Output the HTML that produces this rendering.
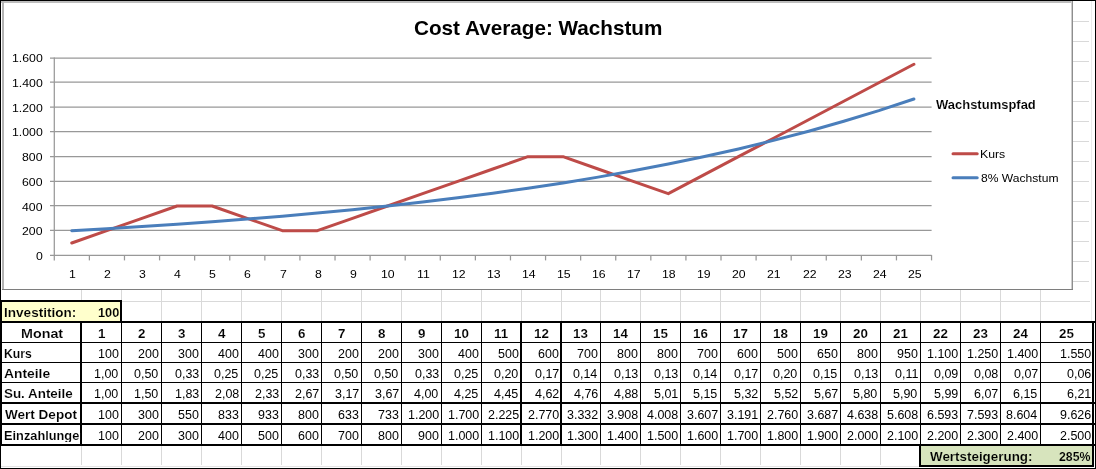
<!DOCTYPE html>
<html><head><meta charset="utf-8"><title>Cost Average: Wachstum</title>
<style>
html,body{margin:0;padding:0;background:#fff;}
body{width:1096px;height:469px;position:relative;overflow:hidden;font-family:"Liberation Sans", sans-serif;}
.r{position:absolute;}
.txt{position:absolute;left:0;top:0;width:1096px;height:469px;will-change:transform;}
.t{position:absolute;white-space:nowrap;transform-origin:0 0;color:#000;display:block;}
</style></head><body>
<div class="r" style="left:1073px;top:21px;width:16px;height:1px;background:#d9d9d9"></div>
<div class="r" style="left:1073px;top:41px;width:16px;height:1px;background:#d9d9d9"></div>
<div class="r" style="left:1073px;top:61px;width:16px;height:1px;background:#d9d9d9"></div>
<div class="r" style="left:1073px;top:81px;width:16px;height:1px;background:#d9d9d9"></div>
<div class="r" style="left:1073px;top:101px;width:16px;height:1px;background:#d9d9d9"></div>
<div class="r" style="left:1073px;top:121px;width:16px;height:1px;background:#d9d9d9"></div>
<div class="r" style="left:1073px;top:141px;width:16px;height:1px;background:#d9d9d9"></div>
<div class="r" style="left:1073px;top:161px;width:16px;height:1px;background:#d9d9d9"></div>
<div class="r" style="left:1073px;top:181px;width:16px;height:1px;background:#d9d9d9"></div>
<div class="r" style="left:1073px;top:201px;width:16px;height:1px;background:#d9d9d9"></div>
<div class="r" style="left:1073px;top:221px;width:16px;height:1px;background:#d9d9d9"></div>
<div class="r" style="left:1073px;top:241px;width:16px;height:1px;background:#d9d9d9"></div>
<div class="r" style="left:1073px;top:261px;width:16px;height:1px;background:#d9d9d9"></div>
<div class="r" style="left:1073px;top:281px;width:16px;height:1px;background:#d9d9d9"></div>
<div class="r" style="left:122px;top:301px;width:968px;height:1px;background:#d9d9d9"></div>
<div class="r" style="left:81px;top:290px;width:1px;height:11px;background:#d9d9d9"></div>
<div class="r" style="left:81px;top:302px;width:1px;height:19px;background:#d9d9d9"></div>
<div class="r" style="left:81px;top:446px;width:1px;height:19px;background:#d9d9d9"></div>
<div class="r" style="left:121px;top:290px;width:1px;height:11px;background:#d9d9d9"></div>
<div class="r" style="left:121px;top:302px;width:1px;height:19px;background:#d9d9d9"></div>
<div class="r" style="left:121px;top:446px;width:1px;height:19px;background:#d9d9d9"></div>
<div class="r" style="left:161px;top:290px;width:1px;height:11px;background:#d9d9d9"></div>
<div class="r" style="left:161px;top:302px;width:1px;height:19px;background:#d9d9d9"></div>
<div class="r" style="left:161px;top:446px;width:1px;height:19px;background:#d9d9d9"></div>
<div class="r" style="left:201px;top:290px;width:1px;height:11px;background:#d9d9d9"></div>
<div class="r" style="left:201px;top:302px;width:1px;height:19px;background:#d9d9d9"></div>
<div class="r" style="left:201px;top:446px;width:1px;height:19px;background:#d9d9d9"></div>
<div class="r" style="left:241px;top:290px;width:1px;height:11px;background:#d9d9d9"></div>
<div class="r" style="left:241px;top:302px;width:1px;height:19px;background:#d9d9d9"></div>
<div class="r" style="left:241px;top:446px;width:1px;height:19px;background:#d9d9d9"></div>
<div class="r" style="left:281px;top:290px;width:1px;height:11px;background:#d9d9d9"></div>
<div class="r" style="left:281px;top:302px;width:1px;height:19px;background:#d9d9d9"></div>
<div class="r" style="left:281px;top:446px;width:1px;height:19px;background:#d9d9d9"></div>
<div class="r" style="left:321px;top:290px;width:1px;height:11px;background:#d9d9d9"></div>
<div class="r" style="left:321px;top:302px;width:1px;height:19px;background:#d9d9d9"></div>
<div class="r" style="left:321px;top:446px;width:1px;height:19px;background:#d9d9d9"></div>
<div class="r" style="left:361px;top:290px;width:1px;height:11px;background:#d9d9d9"></div>
<div class="r" style="left:361px;top:302px;width:1px;height:19px;background:#d9d9d9"></div>
<div class="r" style="left:361px;top:446px;width:1px;height:19px;background:#d9d9d9"></div>
<div class="r" style="left:401px;top:290px;width:1px;height:11px;background:#d9d9d9"></div>
<div class="r" style="left:401px;top:302px;width:1px;height:19px;background:#d9d9d9"></div>
<div class="r" style="left:401px;top:446px;width:1px;height:19px;background:#d9d9d9"></div>
<div class="r" style="left:441px;top:290px;width:1px;height:11px;background:#d9d9d9"></div>
<div class="r" style="left:441px;top:302px;width:1px;height:19px;background:#d9d9d9"></div>
<div class="r" style="left:441px;top:446px;width:1px;height:19px;background:#d9d9d9"></div>
<div class="r" style="left:481px;top:290px;width:1px;height:11px;background:#d9d9d9"></div>
<div class="r" style="left:481px;top:302px;width:1px;height:19px;background:#d9d9d9"></div>
<div class="r" style="left:481px;top:446px;width:1px;height:19px;background:#d9d9d9"></div>
<div class="r" style="left:521px;top:290px;width:1px;height:11px;background:#d9d9d9"></div>
<div class="r" style="left:521px;top:302px;width:1px;height:19px;background:#d9d9d9"></div>
<div class="r" style="left:521px;top:446px;width:1px;height:19px;background:#d9d9d9"></div>
<div class="r" style="left:561px;top:290px;width:1px;height:11px;background:#d9d9d9"></div>
<div class="r" style="left:561px;top:302px;width:1px;height:19px;background:#d9d9d9"></div>
<div class="r" style="left:561px;top:446px;width:1px;height:19px;background:#d9d9d9"></div>
<div class="r" style="left:600px;top:290px;width:1px;height:11px;background:#d9d9d9"></div>
<div class="r" style="left:600px;top:302px;width:1px;height:19px;background:#d9d9d9"></div>
<div class="r" style="left:600px;top:446px;width:1px;height:19px;background:#d9d9d9"></div>
<div class="r" style="left:640px;top:290px;width:1px;height:11px;background:#d9d9d9"></div>
<div class="r" style="left:640px;top:302px;width:1px;height:19px;background:#d9d9d9"></div>
<div class="r" style="left:640px;top:446px;width:1px;height:19px;background:#d9d9d9"></div>
<div class="r" style="left:680px;top:290px;width:1px;height:11px;background:#d9d9d9"></div>
<div class="r" style="left:680px;top:302px;width:1px;height:19px;background:#d9d9d9"></div>
<div class="r" style="left:680px;top:446px;width:1px;height:19px;background:#d9d9d9"></div>
<div class="r" style="left:720px;top:290px;width:1px;height:11px;background:#d9d9d9"></div>
<div class="r" style="left:720px;top:302px;width:1px;height:19px;background:#d9d9d9"></div>
<div class="r" style="left:720px;top:446px;width:1px;height:19px;background:#d9d9d9"></div>
<div class="r" style="left:760px;top:290px;width:1px;height:11px;background:#d9d9d9"></div>
<div class="r" style="left:760px;top:302px;width:1px;height:19px;background:#d9d9d9"></div>
<div class="r" style="left:760px;top:446px;width:1px;height:19px;background:#d9d9d9"></div>
<div class="r" style="left:800px;top:290px;width:1px;height:11px;background:#d9d9d9"></div>
<div class="r" style="left:800px;top:302px;width:1px;height:19px;background:#d9d9d9"></div>
<div class="r" style="left:800px;top:446px;width:1px;height:19px;background:#d9d9d9"></div>
<div class="r" style="left:840px;top:290px;width:1px;height:11px;background:#d9d9d9"></div>
<div class="r" style="left:840px;top:302px;width:1px;height:19px;background:#d9d9d9"></div>
<div class="r" style="left:840px;top:446px;width:1px;height:19px;background:#d9d9d9"></div>
<div class="r" style="left:880px;top:290px;width:1px;height:11px;background:#d9d9d9"></div>
<div class="r" style="left:880px;top:302px;width:1px;height:19px;background:#d9d9d9"></div>
<div class="r" style="left:880px;top:446px;width:1px;height:19px;background:#d9d9d9"></div>
<div class="r" style="left:920px;top:290px;width:1px;height:11px;background:#d9d9d9"></div>
<div class="r" style="left:920px;top:302px;width:1px;height:19px;background:#d9d9d9"></div>
<div class="r" style="left:960px;top:290px;width:1px;height:11px;background:#d9d9d9"></div>
<div class="r" style="left:960px;top:302px;width:1px;height:19px;background:#d9d9d9"></div>
<div class="r" style="left:1000px;top:290px;width:1px;height:11px;background:#d9d9d9"></div>
<div class="r" style="left:1000px;top:302px;width:1px;height:19px;background:#d9d9d9"></div>
<div class="r" style="left:1040px;top:290px;width:1px;height:11px;background:#d9d9d9"></div>
<div class="r" style="left:1040px;top:302px;width:1px;height:19px;background:#d9d9d9"></div>
<div class="r" style="left:1091px;top:1px;width:1px;height:320px;background:#ebebeb"></div>
<div class="r" style="left:1px;top:466px;width:918px;height:1px;background:#e4e4e4"></div>
<div class="r" style="left:2px;top:302px;width:118px;height:19px;background:#ffffcc"></div>
<div class="r" style="left:921px;top:446px;width:171px;height:19px;background:#d7e4bd"></div>
<div class="r" style="left:1px;top:1px;width:1072px;height:2px;background:#bdbdbd"></div>
<div class="r" style="left:2px;top:1px;width:2px;height:289px;background:#b4b4b4"></div>
<div class="r" style="left:1071px;top:1px;width:1px;height:289px;background:#cdcdcd"></div>
<div class="r" style="left:1072px;top:1px;width:1px;height:289px;background:#8e8e8e"></div>
<div class="r" style="left:2px;top:289px;width:1071px;height:1px;background:#7e7e7e"></div>
<div class="r" style="left:0px;top:300px;width:122px;height:2px;background:#000"></div>
<div class="r" style="left:120px;top:300px;width:2px;height:22px;background:#000"></div>
<div class="r" style="left:0px;top:321px;width:1095px;height:2px;background:#000"></div>
<div class="r" style="left:0px;top:342px;width:1094px;height:1px;background:#000"></div>
<div class="r" style="left:0px;top:362px;width:1094px;height:1px;background:#000"></div>
<div class="r" style="left:0px;top:382px;width:1094px;height:1px;background:#000"></div>
<div class="r" style="left:0px;top:402px;width:1095px;height:2px;background:#000"></div>
<div class="r" style="left:0px;top:423px;width:1095px;height:2px;background:#000"></div>
<div class="r" style="left:0px;top:444px;width:1095px;height:2px;background:#000"></div>
<div class="r" style="left:80px;top:321px;width:2px;height:125px;background:#000"></div>
<div class="r" style="left:121px;top:321px;width:1px;height:125px;background:#000"></div>
<div class="r" style="left:161px;top:321px;width:1px;height:125px;background:#000"></div>
<div class="r" style="left:201px;top:321px;width:1px;height:125px;background:#000"></div>
<div class="r" style="left:241px;top:321px;width:1px;height:125px;background:#000"></div>
<div class="r" style="left:281px;top:321px;width:1px;height:125px;background:#000"></div>
<div class="r" style="left:321px;top:321px;width:1px;height:125px;background:#000"></div>
<div class="r" style="left:361px;top:321px;width:1px;height:125px;background:#000"></div>
<div class="r" style="left:401px;top:321px;width:1px;height:125px;background:#000"></div>
<div class="r" style="left:441px;top:321px;width:1px;height:125px;background:#000"></div>
<div class="r" style="left:481px;top:321px;width:1px;height:125px;background:#000"></div>
<div class="r" style="left:520px;top:321px;width:2px;height:125px;background:#000"></div>
<div class="r" style="left:560px;top:321px;width:2px;height:125px;background:#000"></div>
<div class="r" style="left:600px;top:321px;width:1px;height:125px;background:#000"></div>
<div class="r" style="left:640px;top:321px;width:1px;height:125px;background:#000"></div>
<div class="r" style="left:680px;top:321px;width:1px;height:125px;background:#000"></div>
<div class="r" style="left:720px;top:321px;width:1px;height:125px;background:#000"></div>
<div class="r" style="left:760px;top:321px;width:1px;height:125px;background:#000"></div>
<div class="r" style="left:800px;top:321px;width:1px;height:125px;background:#000"></div>
<div class="r" style="left:840px;top:321px;width:1px;height:125px;background:#000"></div>
<div class="r" style="left:880px;top:321px;width:1px;height:125px;background:#000"></div>
<div class="r" style="left:920px;top:321px;width:1px;height:125px;background:#000"></div>
<div class="r" style="left:960px;top:321px;width:1px;height:125px;background:#000"></div>
<div class="r" style="left:1000px;top:321px;width:1px;height:125px;background:#000"></div>
<div class="r" style="left:1040px;top:321px;width:1px;height:125px;background:#000"></div>
<div class="r" style="left:1092px;top:321px;width:2px;height:146px;background:#000"></div>
<div class="r" style="left:919px;top:444px;width:2px;height:23px;background:#000"></div>
<div class="r" style="left:919px;top:465px;width:175px;height:2px;background:#000"></div>
<div class="r" style="left:0px;top:0px;width:1096px;height:1px;background:#000"></div>
<div class="r" style="left:0px;top:0px;width:1px;height:469px;background:#000"></div>
<div class="r" style="left:1095px;top:0px;width:1px;height:469px;background:#000"></div>
<div class="r" style="left:0px;top:468px;width:1096px;height:1px;background:#000"></div>
<div class="r" style="left:0px;top:300px;width:2px;height:146px;background:#000"></div>
<svg class="r" style="left:0;top:0" width="1096" height="469" viewBox="0 0 1096 469">
<line x1="50" y1="255.3" x2="931.6" y2="255.3" stroke="#989898" stroke-width="1.25"/>
<line x1="50" y1="230.3" x2="931.6" y2="230.3" stroke="#989898" stroke-width="1.25"/>
<line x1="50" y1="205.7" x2="931.6" y2="205.7" stroke="#989898" stroke-width="1.25"/>
<line x1="50" y1="181.4" x2="931.6" y2="181.4" stroke="#989898" stroke-width="1.25"/>
<line x1="50" y1="156.5" x2="931.6" y2="156.5" stroke="#989898" stroke-width="1.25"/>
<line x1="50" y1="131.5" x2="931.6" y2="131.5" stroke="#989898" stroke-width="1.25"/>
<line x1="50" y1="107.0" x2="931.6" y2="107.0" stroke="#989898" stroke-width="1.25"/>
<line x1="50" y1="82.0" x2="931.6" y2="82.0" stroke="#989898" stroke-width="1.25"/>
<line x1="50" y1="58.0" x2="931.6" y2="58.0" stroke="#989898" stroke-width="1.25"/>
<line x1="54.3" y1="57.5" x2="54.3" y2="255.8" stroke="#989898" stroke-width="1.25"/>
<line x1="54.30" y1="255" x2="54.30" y2="260.4" stroke="#989898" stroke-width="1.25"/>
<line x1="89.39" y1="255" x2="89.39" y2="260.4" stroke="#989898" stroke-width="1.25"/>
<line x1="124.48" y1="255" x2="124.48" y2="260.4" stroke="#989898" stroke-width="1.25"/>
<line x1="159.57" y1="255" x2="159.57" y2="260.4" stroke="#989898" stroke-width="1.25"/>
<line x1="194.66" y1="255" x2="194.66" y2="260.4" stroke="#989898" stroke-width="1.25"/>
<line x1="229.75" y1="255" x2="229.75" y2="260.4" stroke="#989898" stroke-width="1.25"/>
<line x1="264.84" y1="255" x2="264.84" y2="260.4" stroke="#989898" stroke-width="1.25"/>
<line x1="299.93" y1="255" x2="299.93" y2="260.4" stroke="#989898" stroke-width="1.25"/>
<line x1="335.02" y1="255" x2="335.02" y2="260.4" stroke="#989898" stroke-width="1.25"/>
<line x1="370.11" y1="255" x2="370.11" y2="260.4" stroke="#989898" stroke-width="1.25"/>
<line x1="405.20" y1="255" x2="405.20" y2="260.4" stroke="#989898" stroke-width="1.25"/>
<line x1="440.29" y1="255" x2="440.29" y2="260.4" stroke="#989898" stroke-width="1.25"/>
<line x1="475.38" y1="255" x2="475.38" y2="260.4" stroke="#989898" stroke-width="1.25"/>
<line x1="510.47" y1="255" x2="510.47" y2="260.4" stroke="#989898" stroke-width="1.25"/>
<line x1="545.56" y1="255" x2="545.56" y2="260.4" stroke="#989898" stroke-width="1.25"/>
<line x1="580.65" y1="255" x2="580.65" y2="260.4" stroke="#989898" stroke-width="1.25"/>
<line x1="615.74" y1="255" x2="615.74" y2="260.4" stroke="#989898" stroke-width="1.25"/>
<line x1="650.83" y1="255" x2="650.83" y2="260.4" stroke="#989898" stroke-width="1.25"/>
<line x1="685.92" y1="255" x2="685.92" y2="260.4" stroke="#989898" stroke-width="1.25"/>
<line x1="721.01" y1="255" x2="721.01" y2="260.4" stroke="#989898" stroke-width="1.25"/>
<line x1="756.10" y1="255" x2="756.10" y2="260.4" stroke="#989898" stroke-width="1.25"/>
<line x1="791.19" y1="255" x2="791.19" y2="260.4" stroke="#989898" stroke-width="1.25"/>
<line x1="826.28" y1="255" x2="826.28" y2="260.4" stroke="#989898" stroke-width="1.25"/>
<line x1="861.37" y1="255" x2="861.37" y2="260.4" stroke="#989898" stroke-width="1.25"/>
<line x1="896.46" y1="255" x2="896.46" y2="260.4" stroke="#989898" stroke-width="1.25"/>
<line x1="931.55" y1="255" x2="931.55" y2="260.4" stroke="#989898" stroke-width="1.25"/>
<polyline points="71.75,242.98 106.84,230.65 141.93,218.33 177.02,206.00 212.11,206.00 247.19,218.33 282.29,230.65 317.38,230.65 352.47,218.33 387.56,206.00 422.65,193.68 457.74,181.35 492.83,169.03 527.92,156.70 563.01,156.70 598.10,169.03 633.19,181.35 668.28,193.68 703.37,175.19 738.46,156.70 773.55,138.21 808.64,119.73 843.73,101.24 878.82,82.75 913.91,64.26" fill="none" stroke="#be4b48" stroke-width="3" stroke-linecap="round" stroke-linejoin="round"/>
<polyline points="71.75,230.65 106.84,228.68 141.93,226.55 177.02,224.25 212.11,221.76 247.19,219.08 282.29,216.18 317.38,213.05 352.47,209.67 387.56,206.02 422.65,202.08 457.74,197.83 492.83,193.23 527.92,188.26 563.01,182.90 598.10,177.11 633.19,170.85 668.28,164.09 703.37,156.80 738.46,148.92 773.55,140.41 808.64,131.22 843.73,121.29 878.82,110.57 913.91,98.99" fill="none" stroke="#4a7ebb" stroke-width="3" stroke-linecap="round" stroke-linejoin="round"/>
<line x1="953" y1="153.8" x2="977.2" y2="153.8" stroke="#be4b48" stroke-width="3" stroke-linecap="round"/>
<line x1="953" y1="177.8" x2="977.2" y2="177.8" stroke="#4a7ebb" stroke-width="3" stroke-linecap="round"/>
</svg>
<div class="txt">
<span class="t" style="left:414.03px;top:17.90px;font-size:20.2px;line-height:20.2px;transform:scaleX(1.0252);font-weight:700;">Cost Average: Wachstum</span>
<span class="t" style="left:935.70px;top:98.85px;font-size:12.3px;line-height:12.3px;transform:scaleX(1.0560);font-weight:700;-webkit-text-stroke:0.12px #fff;">Wachstumspfad</span>
<span class="t" style="left:980.26px;top:148.80px;font-size:10.8px;line-height:10.8px;transform:scaleX(1.1373);">Kurs</span>
<span class="t" style="left:980.84px;top:172.60px;font-size:10.8px;line-height:10.8px;transform:scaleX(1.1191);">8% Wachstum</span>
<span class="t" style="left:36.16px;top:250.75px;font-size:10.5px;line-height:10.5px;transform:scaleX(1.1700);">0</span>
<span class="t" style="left:22.42px;top:225.75px;font-size:10.5px;line-height:10.5px;transform:scaleX(1.1700);">200</span>
<span class="t" style="left:22.42px;top:201.75px;font-size:10.5px;line-height:10.5px;transform:scaleX(1.1700);">400</span>
<span class="t" style="left:22.42px;top:176.75px;font-size:10.5px;line-height:10.5px;transform:scaleX(1.1700);">600</span>
<span class="t" style="left:22.42px;top:151.75px;font-size:10.5px;line-height:10.5px;transform:scaleX(1.1700);">800</span>
<span class="t" style="left:12.18px;top:126.75px;font-size:10.5px;line-height:10.5px;transform:scaleX(1.1700);">1.000</span>
<span class="t" style="left:12.18px;top:102.75px;font-size:10.5px;line-height:10.5px;transform:scaleX(1.1700);">1.200</span>
<span class="t" style="left:12.18px;top:77.75px;font-size:10.5px;line-height:10.5px;transform:scaleX(1.1700);">1.400</span>
<span class="t" style="left:12.18px;top:52.75px;font-size:10.5px;line-height:10.5px;transform:scaleX(1.1700);">1.600</span>
<span class="t" style="left:69.03px;top:268.75px;font-size:10.5px;line-height:10.5px;transform:scaleX(1.1700);">1</span>
<span class="t" style="left:104.27px;top:268.75px;font-size:10.5px;line-height:10.5px;transform:scaleX(1.1700);">2</span>
<span class="t" style="left:139.22px;top:268.75px;font-size:10.5px;line-height:10.5px;transform:scaleX(1.1700);">3</span>
<span class="t" style="left:174.45px;top:268.75px;font-size:10.5px;line-height:10.5px;transform:scaleX(1.1700);">4</span>
<span class="t" style="left:209.40px;top:268.75px;font-size:10.5px;line-height:10.5px;transform:scaleX(1.1700);">5</span>
<span class="t" style="left:244.49px;top:268.75px;font-size:10.5px;line-height:10.5px;transform:scaleX(1.1700);">6</span>
<span class="t" style="left:279.72px;top:268.75px;font-size:10.5px;line-height:10.5px;transform:scaleX(1.1700);">7</span>
<span class="t" style="left:314.67px;top:268.75px;font-size:10.5px;line-height:10.5px;transform:scaleX(1.1700);">8</span>
<span class="t" style="left:349.76px;top:268.75px;font-size:10.5px;line-height:10.5px;transform:scaleX(1.1700);">9</span>
<span class="t" style="left:381.34px;top:268.75px;font-size:10.5px;line-height:10.5px;transform:scaleX(1.1700);">10</span>
<span class="t" style="left:416.86px;top:268.75px;font-size:10.5px;line-height:10.5px;transform:scaleX(1.1700);">11</span>
<span class="t" style="left:451.52px;top:268.75px;font-size:10.5px;line-height:10.5px;transform:scaleX(1.1700);">12</span>
<span class="t" style="left:486.61px;top:268.75px;font-size:10.5px;line-height:10.5px;transform:scaleX(1.1700);">13</span>
<span class="t" style="left:521.55px;top:268.75px;font-size:10.5px;line-height:10.5px;transform:scaleX(1.1700);">14</span>
<span class="t" style="left:556.79px;top:268.75px;font-size:10.5px;line-height:10.5px;transform:scaleX(1.1700);">15</span>
<span class="t" style="left:591.88px;top:268.75px;font-size:10.5px;line-height:10.5px;transform:scaleX(1.1700);">16</span>
<span class="t" style="left:626.97px;top:268.75px;font-size:10.5px;line-height:10.5px;transform:scaleX(1.1700);">17</span>
<span class="t" style="left:662.06px;top:268.75px;font-size:10.5px;line-height:10.5px;transform:scaleX(1.1700);">18</span>
<span class="t" style="left:697.15px;top:268.75px;font-size:10.5px;line-height:10.5px;transform:scaleX(1.1700);">19</span>
<span class="t" style="left:732.38px;top:268.75px;font-size:10.5px;line-height:10.5px;transform:scaleX(1.1700);">20</span>
<span class="t" style="left:767.47px;top:268.75px;font-size:10.5px;line-height:10.5px;transform:scaleX(1.1700);">21</span>
<span class="t" style="left:802.56px;top:268.75px;font-size:10.5px;line-height:10.5px;transform:scaleX(1.1700);">22</span>
<span class="t" style="left:837.65px;top:268.75px;font-size:10.5px;line-height:10.5px;transform:scaleX(1.1700);">23</span>
<span class="t" style="left:872.60px;top:268.75px;font-size:10.5px;line-height:10.5px;transform:scaleX(1.1700);">24</span>
<span class="t" style="left:907.83px;top:268.75px;font-size:10.5px;line-height:10.5px;transform:scaleX(1.1700);">25</span>
<span class="t" style="left:3.88px;top:306.80px;font-size:12.4px;line-height:12.4px;transform:scaleX(1.0942);font-weight:700;-webkit-text-stroke:0.12px #ffffcc;">Investition:</span>
<span class="t" style="left:97.73px;top:306.80px;font-size:12.4px;line-height:12.4px;transform:scaleX(1.0308);font-weight:700;-webkit-text-stroke:0.12px #ffffcc;">100</span>
<span class="t" style="left:20.63px;top:327.80px;font-size:12.4px;line-height:12.4px;transform:scaleX(1.1549);font-weight:700;-webkit-text-stroke:0.12px #fff;">Monat</span>
<span class="t" style="left:3.66px;top:347.80px;font-size:12.4px;line-height:12.4px;transform:scaleX(0.9852);font-weight:700;-webkit-text-stroke:0.12px #fff;">Kurs</span>
<span class="t" style="left:4.12px;top:367.80px;font-size:12.4px;line-height:12.4px;transform:scaleX(1.1166);font-weight:700;-webkit-text-stroke:0.12px #fff;">Anteile</span>
<span class="t" style="left:3.86px;top:387.80px;font-size:12.4px;line-height:12.4px;transform:scaleX(1.0805);font-weight:700;-webkit-text-stroke:0.12px #fff;">Su. Anteile</span>
<span class="t" style="left:4.70px;top:408.80px;font-size:12.4px;line-height:12.4px;transform:scaleX(1.0920);font-weight:700;-webkit-text-stroke:0.12px #fff;">Wert Depot</span>
<span class="t" style="left:3.93px;top:429.80px;font-size:12.4px;line-height:12.4px;transform:scaleX(1.0316);font-weight:700;-webkit-text-stroke:0.12px #fff;width:73.74px;overflow:hidden;">Einzahlungen</span>
<span class="t" style="left:930.40px;top:450.80px;font-size:12.4px;line-height:12.4px;transform:scaleX(1.0813);font-weight:700;-webkit-text-stroke:0.12px #d7e4bd;">Wertsteigerung:</span>
<span class="t" style="left:1059.20px;top:450.80px;font-size:12.4px;line-height:12.4px;transform:scaleX(0.9935);font-weight:700;-webkit-text-stroke:0.12px #d7e4bd;">285%</span>
<span class="t" style="left:97.58px;top:327.80px;font-size:12.4px;line-height:12.4px;transform:scaleX(1.0800);font-weight:700;-webkit-text-stroke:0.12px #fff;">1</span>
<span class="t" style="left:137.72px;top:327.80px;font-size:12.4px;line-height:12.4px;transform:scaleX(1.0800);font-weight:700;-webkit-text-stroke:0.12px #fff;">2</span>
<span class="t" style="left:177.85px;top:327.80px;font-size:12.4px;line-height:12.4px;transform:scaleX(1.0800);font-weight:700;-webkit-text-stroke:0.12px #fff;">3</span>
<span class="t" style="left:217.72px;top:327.80px;font-size:12.4px;line-height:12.4px;transform:scaleX(1.0800);font-weight:700;-webkit-text-stroke:0.12px #fff;">4</span>
<span class="t" style="left:257.72px;top:327.80px;font-size:12.4px;line-height:12.4px;transform:scaleX(1.0800);font-weight:700;-webkit-text-stroke:0.12px #fff;">5</span>
<span class="t" style="left:297.72px;top:327.80px;font-size:12.4px;line-height:12.4px;transform:scaleX(1.0800);font-weight:700;-webkit-text-stroke:0.12px #fff;">6</span>
<span class="t" style="left:337.86px;top:327.80px;font-size:12.4px;line-height:12.4px;transform:scaleX(1.0800);font-weight:700;-webkit-text-stroke:0.12px #fff;">7</span>
<span class="t" style="left:377.72px;top:327.80px;font-size:12.4px;line-height:12.4px;transform:scaleX(1.0800);font-weight:700;-webkit-text-stroke:0.12px #fff;">8</span>
<span class="t" style="left:417.72px;top:327.80px;font-size:12.4px;line-height:12.4px;transform:scaleX(1.0800);font-weight:700;-webkit-text-stroke:0.12px #fff;">9</span>
<span class="t" style="left:453.94px;top:327.80px;font-size:12.4px;line-height:12.4px;transform:scaleX(1.0800);font-weight:700;-webkit-text-stroke:0.12px #fff;">10</span>
<span class="t" style="left:494.21px;top:327.80px;font-size:12.4px;line-height:12.4px;transform:scaleX(1.0800);font-weight:700;-webkit-text-stroke:0.12px #fff;">11</span>
<span class="t" style="left:533.94px;top:327.80px;font-size:12.4px;line-height:12.4px;transform:scaleX(1.0800);font-weight:700;-webkit-text-stroke:0.12px #fff;">12</span>
<span class="t" style="left:573.44px;top:327.80px;font-size:12.4px;line-height:12.4px;transform:scaleX(1.0800);font-weight:700;-webkit-text-stroke:0.12px #fff;">13</span>
<span class="t" style="left:612.67px;top:327.80px;font-size:12.4px;line-height:12.4px;transform:scaleX(1.0800);font-weight:700;-webkit-text-stroke:0.12px #fff;">14</span>
<span class="t" style="left:652.80px;top:327.80px;font-size:12.4px;line-height:12.4px;transform:scaleX(1.0800);font-weight:700;-webkit-text-stroke:0.12px #fff;">15</span>
<span class="t" style="left:692.94px;top:327.80px;font-size:12.4px;line-height:12.4px;transform:scaleX(1.0800);font-weight:700;-webkit-text-stroke:0.12px #fff;">16</span>
<span class="t" style="left:732.94px;top:327.80px;font-size:12.4px;line-height:12.4px;transform:scaleX(1.0800);font-weight:700;-webkit-text-stroke:0.12px #fff;">17</span>
<span class="t" style="left:772.80px;top:327.80px;font-size:12.4px;line-height:12.4px;transform:scaleX(1.0800);font-weight:700;-webkit-text-stroke:0.12px #fff;">18</span>
<span class="t" style="left:812.94px;top:327.80px;font-size:12.4px;line-height:12.4px;transform:scaleX(1.0800);font-weight:700;-webkit-text-stroke:0.12px #fff;">19</span>
<span class="t" style="left:853.08px;top:327.80px;font-size:12.4px;line-height:12.4px;transform:scaleX(1.0800);font-weight:700;-webkit-text-stroke:0.12px #fff;">20</span>
<span class="t" style="left:892.94px;top:327.80px;font-size:12.4px;line-height:12.4px;transform:scaleX(1.0800);font-weight:700;-webkit-text-stroke:0.12px #fff;">21</span>
<span class="t" style="left:933.08px;top:327.80px;font-size:12.4px;line-height:12.4px;transform:scaleX(1.0800);font-weight:700;-webkit-text-stroke:0.12px #fff;">22</span>
<span class="t" style="left:973.08px;top:327.80px;font-size:12.4px;line-height:12.4px;transform:scaleX(1.0800);font-weight:700;-webkit-text-stroke:0.12px #fff;">23</span>
<span class="t" style="left:1012.80px;top:327.80px;font-size:12.4px;line-height:12.4px;transform:scaleX(1.0800);font-weight:700;-webkit-text-stroke:0.12px #fff;">24</span>
<span class="t" style="left:1059.44px;top:327.80px;font-size:12.4px;line-height:12.4px;transform:scaleX(1.0800);font-weight:700;-webkit-text-stroke:0.12px #fff;">25</span>
<span class="t" style="left:98.12px;top:348.00px;font-size:12.0px;line-height:12.0px;transform:scaleX(1.0400);">100</span>
<span class="t" style="left:138.12px;top:348.00px;font-size:12.0px;line-height:12.0px;transform:scaleX(1.0400);">200</span>
<span class="t" style="left:178.12px;top:348.00px;font-size:12.0px;line-height:12.0px;transform:scaleX(1.0400);">300</span>
<span class="t" style="left:218.12px;top:348.00px;font-size:12.0px;line-height:12.0px;transform:scaleX(1.0400);">400</span>
<span class="t" style="left:258.12px;top:348.00px;font-size:12.0px;line-height:12.0px;transform:scaleX(1.0400);">400</span>
<span class="t" style="left:298.12px;top:348.00px;font-size:12.0px;line-height:12.0px;transform:scaleX(1.0400);">300</span>
<span class="t" style="left:338.12px;top:348.00px;font-size:12.0px;line-height:12.0px;transform:scaleX(1.0400);">200</span>
<span class="t" style="left:378.12px;top:348.00px;font-size:12.0px;line-height:12.0px;transform:scaleX(1.0400);">200</span>
<span class="t" style="left:418.12px;top:348.00px;font-size:12.0px;line-height:12.0px;transform:scaleX(1.0400);">300</span>
<span class="t" style="left:458.12px;top:348.00px;font-size:12.0px;line-height:12.0px;transform:scaleX(1.0400);">400</span>
<span class="t" style="left:498.12px;top:348.00px;font-size:12.0px;line-height:12.0px;transform:scaleX(1.0400);">500</span>
<span class="t" style="left:538.12px;top:348.00px;font-size:12.0px;line-height:12.0px;transform:scaleX(1.0400);">600</span>
<span class="t" style="left:577.12px;top:348.00px;font-size:12.0px;line-height:12.0px;transform:scaleX(1.0400);">700</span>
<span class="t" style="left:617.12px;top:348.00px;font-size:12.0px;line-height:12.0px;transform:scaleX(1.0400);">800</span>
<span class="t" style="left:657.12px;top:348.00px;font-size:12.0px;line-height:12.0px;transform:scaleX(1.0400);">800</span>
<span class="t" style="left:697.12px;top:348.00px;font-size:12.0px;line-height:12.0px;transform:scaleX(1.0400);">700</span>
<span class="t" style="left:737.12px;top:348.00px;font-size:12.0px;line-height:12.0px;transform:scaleX(1.0400);">600</span>
<span class="t" style="left:777.12px;top:348.00px;font-size:12.0px;line-height:12.0px;transform:scaleX(1.0400);">500</span>
<span class="t" style="left:817.12px;top:348.00px;font-size:12.0px;line-height:12.0px;transform:scaleX(1.0400);">650</span>
<span class="t" style="left:857.12px;top:348.00px;font-size:12.0px;line-height:12.0px;transform:scaleX(1.0400);">800</span>
<span class="t" style="left:897.12px;top:348.00px;font-size:12.0px;line-height:12.0px;transform:scaleX(1.0400);">950</span>
<span class="t" style="left:926.72px;top:348.00px;font-size:12.0px;line-height:12.0px;transform:scaleX(1.0400);">1.100</span>
<span class="t" style="left:966.72px;top:348.00px;font-size:12.0px;line-height:12.0px;transform:scaleX(1.0400);">1.250</span>
<span class="t" style="left:1006.72px;top:348.00px;font-size:12.0px;line-height:12.0px;transform:scaleX(1.0400);">1.400</span>
<span class="t" style="left:1059.62px;top:348.00px;font-size:12.0px;line-height:12.0px;transform:scaleX(1.0400);">1.550</span>
<span class="t" style="left:94.48px;top:368.00px;font-size:12.0px;line-height:12.0px;transform:scaleX(1.0400);">1,00</span>
<span class="t" style="left:134.48px;top:368.00px;font-size:12.0px;line-height:12.0px;transform:scaleX(1.0400);">0,50</span>
<span class="t" style="left:174.74px;top:368.00px;font-size:12.0px;line-height:12.0px;transform:scaleX(1.0400);">0,33</span>
<span class="t" style="left:214.48px;top:368.00px;font-size:12.0px;line-height:12.0px;transform:scaleX(1.0400);">0,25</span>
<span class="t" style="left:254.48px;top:368.00px;font-size:12.0px;line-height:12.0px;transform:scaleX(1.0400);">0,25</span>
<span class="t" style="left:294.74px;top:368.00px;font-size:12.0px;line-height:12.0px;transform:scaleX(1.0400);">0,33</span>
<span class="t" style="left:334.48px;top:368.00px;font-size:12.0px;line-height:12.0px;transform:scaleX(1.0400);">0,50</span>
<span class="t" style="left:374.48px;top:368.00px;font-size:12.0px;line-height:12.0px;transform:scaleX(1.0400);">0,50</span>
<span class="t" style="left:414.74px;top:368.00px;font-size:12.0px;line-height:12.0px;transform:scaleX(1.0400);">0,33</span>
<span class="t" style="left:454.48px;top:368.00px;font-size:12.0px;line-height:12.0px;transform:scaleX(1.0400);">0,25</span>
<span class="t" style="left:494.48px;top:368.00px;font-size:12.0px;line-height:12.0px;transform:scaleX(1.0400);">0,20</span>
<span class="t" style="left:534.74px;top:368.00px;font-size:12.0px;line-height:12.0px;transform:scaleX(1.0400);">0,17</span>
<span class="t" style="left:573.48px;top:368.00px;font-size:12.0px;line-height:12.0px;transform:scaleX(1.0400);">0,14</span>
<span class="t" style="left:613.74px;top:368.00px;font-size:12.0px;line-height:12.0px;transform:scaleX(1.0400);">0,13</span>
<span class="t" style="left:653.74px;top:368.00px;font-size:12.0px;line-height:12.0px;transform:scaleX(1.0400);">0,13</span>
<span class="t" style="left:693.48px;top:368.00px;font-size:12.0px;line-height:12.0px;transform:scaleX(1.0400);">0,14</span>
<span class="t" style="left:733.74px;top:368.00px;font-size:12.0px;line-height:12.0px;transform:scaleX(1.0400);">0,17</span>
<span class="t" style="left:773.48px;top:368.00px;font-size:12.0px;line-height:12.0px;transform:scaleX(1.0400);">0,20</span>
<span class="t" style="left:813.48px;top:368.00px;font-size:12.0px;line-height:12.0px;transform:scaleX(1.0400);">0,15</span>
<span class="t" style="left:853.74px;top:368.00px;font-size:12.0px;line-height:12.0px;transform:scaleX(1.0400);">0,13</span>
<span class="t" style="left:894.52px;top:368.00px;font-size:12.0px;line-height:12.0px;transform:scaleX(1.0400);">0,11</span>
<span class="t" style="left:933.74px;top:368.00px;font-size:12.0px;line-height:12.0px;transform:scaleX(1.0400);">0,09</span>
<span class="t" style="left:973.74px;top:368.00px;font-size:12.0px;line-height:12.0px;transform:scaleX(1.0400);">0,08</span>
<span class="t" style="left:1013.74px;top:368.00px;font-size:12.0px;line-height:12.0px;transform:scaleX(1.0400);">0,07</span>
<span class="t" style="left:1066.64px;top:368.00px;font-size:12.0px;line-height:12.0px;transform:scaleX(1.0400);">0,06</span>
<span class="t" style="left:94.48px;top:388.00px;font-size:12.0px;line-height:12.0px;transform:scaleX(1.0400);">1,00</span>
<span class="t" style="left:134.48px;top:388.00px;font-size:12.0px;line-height:12.0px;transform:scaleX(1.0400);">1,50</span>
<span class="t" style="left:174.74px;top:388.00px;font-size:12.0px;line-height:12.0px;transform:scaleX(1.0400);">1,83</span>
<span class="t" style="left:214.74px;top:388.00px;font-size:12.0px;line-height:12.0px;transform:scaleX(1.0400);">2,08</span>
<span class="t" style="left:254.74px;top:388.00px;font-size:12.0px;line-height:12.0px;transform:scaleX(1.0400);">2,33</span>
<span class="t" style="left:294.74px;top:388.00px;font-size:12.0px;line-height:12.0px;transform:scaleX(1.0400);">2,67</span>
<span class="t" style="left:334.74px;top:388.00px;font-size:12.0px;line-height:12.0px;transform:scaleX(1.0400);">3,17</span>
<span class="t" style="left:374.74px;top:388.00px;font-size:12.0px;line-height:12.0px;transform:scaleX(1.0400);">3,67</span>
<span class="t" style="left:414.48px;top:388.00px;font-size:12.0px;line-height:12.0px;transform:scaleX(1.0400);">4,00</span>
<span class="t" style="left:454.48px;top:388.00px;font-size:12.0px;line-height:12.0px;transform:scaleX(1.0400);">4,25</span>
<span class="t" style="left:494.48px;top:388.00px;font-size:12.0px;line-height:12.0px;transform:scaleX(1.0400);">4,45</span>
<span class="t" style="left:534.74px;top:388.00px;font-size:12.0px;line-height:12.0px;transform:scaleX(1.0400);">4,62</span>
<span class="t" style="left:573.74px;top:388.00px;font-size:12.0px;line-height:12.0px;transform:scaleX(1.0400);">4,76</span>
<span class="t" style="left:613.74px;top:388.00px;font-size:12.0px;line-height:12.0px;transform:scaleX(1.0400);">4,88</span>
<span class="t" style="left:653.74px;top:388.00px;font-size:12.0px;line-height:12.0px;transform:scaleX(1.0400);">5,01</span>
<span class="t" style="left:693.48px;top:388.00px;font-size:12.0px;line-height:12.0px;transform:scaleX(1.0400);">5,15</span>
<span class="t" style="left:733.74px;top:388.00px;font-size:12.0px;line-height:12.0px;transform:scaleX(1.0400);">5,32</span>
<span class="t" style="left:773.74px;top:388.00px;font-size:12.0px;line-height:12.0px;transform:scaleX(1.0400);">5,52</span>
<span class="t" style="left:813.74px;top:388.00px;font-size:12.0px;line-height:12.0px;transform:scaleX(1.0400);">5,67</span>
<span class="t" style="left:853.48px;top:388.00px;font-size:12.0px;line-height:12.0px;transform:scaleX(1.0400);">5,80</span>
<span class="t" style="left:893.48px;top:388.00px;font-size:12.0px;line-height:12.0px;transform:scaleX(1.0400);">5,90</span>
<span class="t" style="left:933.74px;top:388.00px;font-size:12.0px;line-height:12.0px;transform:scaleX(1.0400);">5,99</span>
<span class="t" style="left:973.74px;top:388.00px;font-size:12.0px;line-height:12.0px;transform:scaleX(1.0400);">6,07</span>
<span class="t" style="left:1013.48px;top:388.00px;font-size:12.0px;line-height:12.0px;transform:scaleX(1.0400);">6,15</span>
<span class="t" style="left:1066.64px;top:388.00px;font-size:12.0px;line-height:12.0px;transform:scaleX(1.0400);">6,21</span>
<span class="t" style="left:98.12px;top:409.00px;font-size:12.0px;line-height:12.0px;transform:scaleX(1.0400);">100</span>
<span class="t" style="left:138.12px;top:409.00px;font-size:12.0px;line-height:12.0px;transform:scaleX(1.0400);">300</span>
<span class="t" style="left:178.12px;top:409.00px;font-size:12.0px;line-height:12.0px;transform:scaleX(1.0400);">550</span>
<span class="t" style="left:218.12px;top:409.00px;font-size:12.0px;line-height:12.0px;transform:scaleX(1.0400);">833</span>
<span class="t" style="left:258.12px;top:409.00px;font-size:12.0px;line-height:12.0px;transform:scaleX(1.0400);">933</span>
<span class="t" style="left:298.12px;top:409.00px;font-size:12.0px;line-height:12.0px;transform:scaleX(1.0400);">800</span>
<span class="t" style="left:338.12px;top:409.00px;font-size:12.0px;line-height:12.0px;transform:scaleX(1.0400);">633</span>
<span class="t" style="left:378.12px;top:409.00px;font-size:12.0px;line-height:12.0px;transform:scaleX(1.0400);">733</span>
<span class="t" style="left:407.72px;top:409.00px;font-size:12.0px;line-height:12.0px;transform:scaleX(1.0400);">1.200</span>
<span class="t" style="left:447.72px;top:409.00px;font-size:12.0px;line-height:12.0px;transform:scaleX(1.0400);">1.700</span>
<span class="t" style="left:487.72px;top:409.00px;font-size:12.0px;line-height:12.0px;transform:scaleX(1.0400);">2.225</span>
<span class="t" style="left:527.72px;top:409.00px;font-size:12.0px;line-height:12.0px;transform:scaleX(1.0400);">2.770</span>
<span class="t" style="left:566.72px;top:409.00px;font-size:12.0px;line-height:12.0px;transform:scaleX(1.0400);">3.332</span>
<span class="t" style="left:606.72px;top:409.00px;font-size:12.0px;line-height:12.0px;transform:scaleX(1.0400);">3.908</span>
<span class="t" style="left:646.72px;top:409.00px;font-size:12.0px;line-height:12.0px;transform:scaleX(1.0400);">4.008</span>
<span class="t" style="left:686.72px;top:409.00px;font-size:12.0px;line-height:12.0px;transform:scaleX(1.0400);">3.607</span>
<span class="t" style="left:726.72px;top:409.00px;font-size:12.0px;line-height:12.0px;transform:scaleX(1.0400);">3.191</span>
<span class="t" style="left:766.72px;top:409.00px;font-size:12.0px;line-height:12.0px;transform:scaleX(1.0400);">2.760</span>
<span class="t" style="left:806.72px;top:409.00px;font-size:12.0px;line-height:12.0px;transform:scaleX(1.0400);">3.687</span>
<span class="t" style="left:846.72px;top:409.00px;font-size:12.0px;line-height:12.0px;transform:scaleX(1.0400);">4.638</span>
<span class="t" style="left:886.72px;top:409.00px;font-size:12.0px;line-height:12.0px;transform:scaleX(1.0400);">5.608</span>
<span class="t" style="left:926.72px;top:409.00px;font-size:12.0px;line-height:12.0px;transform:scaleX(1.0400);">6.593</span>
<span class="t" style="left:966.72px;top:409.00px;font-size:12.0px;line-height:12.0px;transform:scaleX(1.0400);">7.593</span>
<span class="t" style="left:1006.46px;top:409.00px;font-size:12.0px;line-height:12.0px;transform:scaleX(1.0400);">8.604</span>
<span class="t" style="left:1059.62px;top:409.00px;font-size:12.0px;line-height:12.0px;transform:scaleX(1.0400);">9.626</span>
<span class="t" style="left:98.12px;top:430.00px;font-size:12.0px;line-height:12.0px;transform:scaleX(1.0400);">100</span>
<span class="t" style="left:138.12px;top:430.00px;font-size:12.0px;line-height:12.0px;transform:scaleX(1.0400);">200</span>
<span class="t" style="left:178.12px;top:430.00px;font-size:12.0px;line-height:12.0px;transform:scaleX(1.0400);">300</span>
<span class="t" style="left:218.12px;top:430.00px;font-size:12.0px;line-height:12.0px;transform:scaleX(1.0400);">400</span>
<span class="t" style="left:258.12px;top:430.00px;font-size:12.0px;line-height:12.0px;transform:scaleX(1.0400);">500</span>
<span class="t" style="left:298.12px;top:430.00px;font-size:12.0px;line-height:12.0px;transform:scaleX(1.0400);">600</span>
<span class="t" style="left:338.12px;top:430.00px;font-size:12.0px;line-height:12.0px;transform:scaleX(1.0400);">700</span>
<span class="t" style="left:378.12px;top:430.00px;font-size:12.0px;line-height:12.0px;transform:scaleX(1.0400);">800</span>
<span class="t" style="left:418.12px;top:430.00px;font-size:12.0px;line-height:12.0px;transform:scaleX(1.0400);">900</span>
<span class="t" style="left:447.72px;top:430.00px;font-size:12.0px;line-height:12.0px;transform:scaleX(1.0400);">1.000</span>
<span class="t" style="left:487.72px;top:430.00px;font-size:12.0px;line-height:12.0px;transform:scaleX(1.0400);">1.100</span>
<span class="t" style="left:527.72px;top:430.00px;font-size:12.0px;line-height:12.0px;transform:scaleX(1.0400);">1.200</span>
<span class="t" style="left:566.72px;top:430.00px;font-size:12.0px;line-height:12.0px;transform:scaleX(1.0400);">1.300</span>
<span class="t" style="left:606.72px;top:430.00px;font-size:12.0px;line-height:12.0px;transform:scaleX(1.0400);">1.400</span>
<span class="t" style="left:646.72px;top:430.00px;font-size:12.0px;line-height:12.0px;transform:scaleX(1.0400);">1.500</span>
<span class="t" style="left:686.72px;top:430.00px;font-size:12.0px;line-height:12.0px;transform:scaleX(1.0400);">1.600</span>
<span class="t" style="left:726.72px;top:430.00px;font-size:12.0px;line-height:12.0px;transform:scaleX(1.0400);">1.700</span>
<span class="t" style="left:766.72px;top:430.00px;font-size:12.0px;line-height:12.0px;transform:scaleX(1.0400);">1.800</span>
<span class="t" style="left:806.72px;top:430.00px;font-size:12.0px;line-height:12.0px;transform:scaleX(1.0400);">1.900</span>
<span class="t" style="left:846.72px;top:430.00px;font-size:12.0px;line-height:12.0px;transform:scaleX(1.0400);">2.000</span>
<span class="t" style="left:886.72px;top:430.00px;font-size:12.0px;line-height:12.0px;transform:scaleX(1.0400);">2.100</span>
<span class="t" style="left:926.72px;top:430.00px;font-size:12.0px;line-height:12.0px;transform:scaleX(1.0400);">2.200</span>
<span class="t" style="left:966.72px;top:430.00px;font-size:12.0px;line-height:12.0px;transform:scaleX(1.0400);">2.300</span>
<span class="t" style="left:1006.72px;top:430.00px;font-size:12.0px;line-height:12.0px;transform:scaleX(1.0400);">2.400</span>
<span class="t" style="left:1059.62px;top:430.00px;font-size:12.0px;line-height:12.0px;transform:scaleX(1.0400);">2.500</span>
</div>
</body></html>
